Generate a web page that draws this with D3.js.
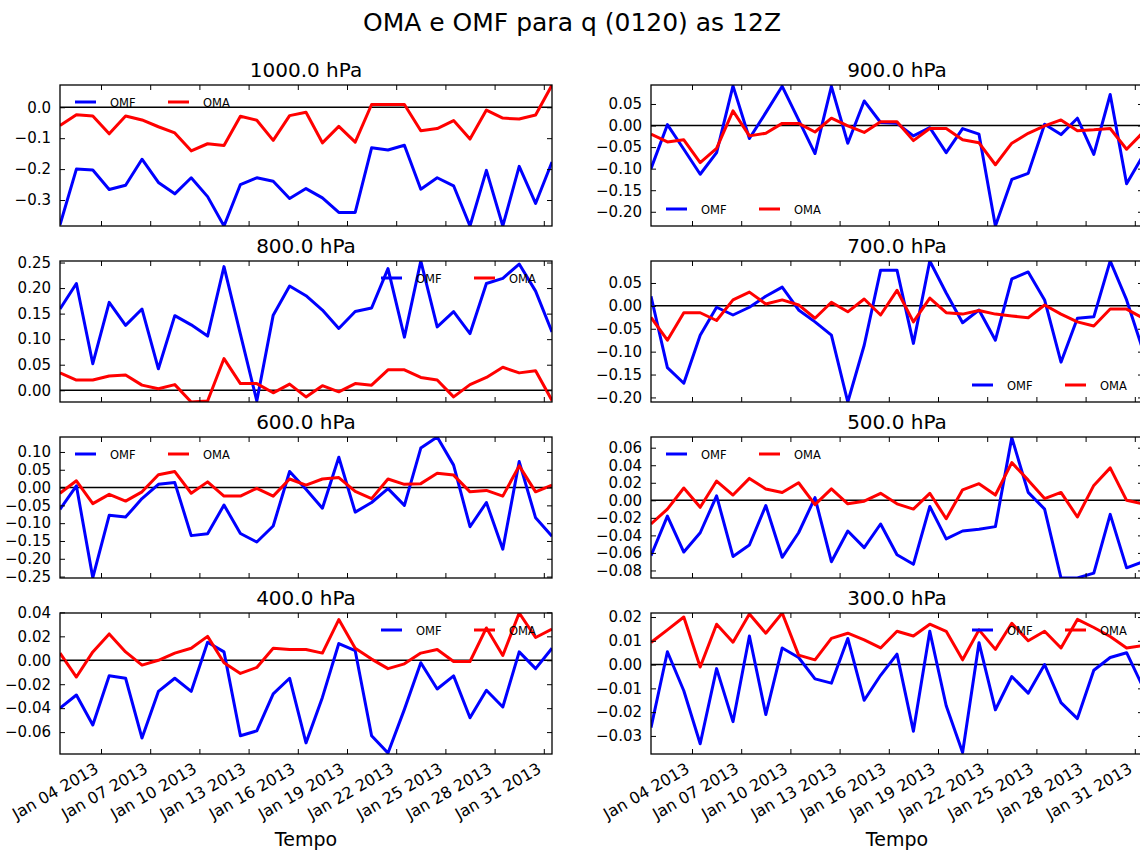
<!doctype html>
<html>
<head>
<meta charset="utf-8"/>
<title>OMA e OMF</title>
<script src="https://d3js.org/d3.v7.min.js"></script>
<style>
body { margin:0; background:#fff; }
svg text { font-family:"DejaVu Sans", sans-serif; fill:#000; }
</style>
</head>
<body>
<div id="grafico"></div>
<script>
// datas das analises (12Z)
var dias = ["2013-01-01","2013-01-02","2013-01-03","2013-01-04","2013-01-05","2013-01-06","2013-01-07",
  "2013-01-08","2013-01-09","2013-01-10","2013-01-11","2013-01-12","2013-01-13","2013-01-14","2013-01-15",
  "2013-01-16","2013-01-17","2013-01-18","2013-01-19","2013-01-20","2013-01-21","2013-01-22","2013-01-23",
  "2013-01-24","2013-01-25","2013-01-26","2013-01-27","2013-01-28","2013-01-29","2013-01-30","2013-01-31"];
var diasTicks = ["2013-01-04","2013-01-07","2013-01-10","2013-01-13","2013-01-16","2013-01-19",
  "2013-01-22","2013-01-25","2013-01-28","2013-01-31"];

var niveis = ["1000.0 hPa","900.0 hPa","800.0 hPa","700.0 hPa","600.0 hPa","500.0 hPa","400.0 hPa","300.0 hPa"];

var omf1000 = [-0.380,-0.200,-0.203,-0.266,-0.252,-0.168,-0.243,-0.280,-0.228,-0.289,-0.384,-0.250,-0.228,-0.239,-0.295,-0.263,-0.293,-0.340,-0.340,-0.131,-0.138,-0.123,-0.265,-0.228,-0.254,-0.384,-0.204,-0.384,-0.191,-0.311,-0.177];
var oma1000 = [-0.059,-0.024,-0.028,-0.086,-0.028,-0.041,-0.063,-0.083,-0.141,-0.118,-0.124,-0.029,-0.042,-0.107,-0.027,-0.016,-0.115,-0.062,-0.113,0.009,0.009,0.009,-0.076,-0.069,-0.043,-0.103,-0.009,-0.035,-0.038,-0.025,0.072];
var omf900 = [-0.100,0.002,-0.055,-0.113,-0.063,0.092,-0.030,0.030,0.091,0.013,-0.065,0.091,-0.041,0.057,0.007,0.005,-0.024,-0.005,-0.063,-0.007,-0.020,-0.233,-0.125,-0.111,0.003,-0.021,0.017,-0.067,0.072,-0.135,-0.070];
var oma900 = [-0.020,-0.038,-0.033,-0.086,-0.053,0.034,-0.024,-0.018,0.005,0.005,-0.015,0.017,-0.001,-0.016,0.009,0.009,-0.035,-0.007,-0.007,-0.033,-0.040,-0.091,-0.041,-0.018,-0.001,0.013,-0.012,-0.010,-0.007,-0.055,-0.016];
var omf800 = [0.159,0.209,0.052,0.172,0.127,0.159,0.042,0.146,0.128,0.106,0.242,0.110,-0.021,0.147,0.204,0.185,0.157,0.121,0.154,0.161,0.238,0.104,0.253,0.124,0.154,0.111,0.209,0.219,0.247,0.194,0.114];
var oma800 = [0.034,0.020,0.020,0.028,0.030,0.010,0.003,0.011,-0.023,-0.021,0.062,0.013,0.013,-0.005,0.012,-0.013,0.009,-0.003,0.013,0.010,0.040,0.040,0.025,0.020,-0.013,0.011,0.025,0.045,0.034,0.038,-0.020];
var omf700 = [0.021,-0.135,-0.169,-0.064,-0.003,-0.020,-0.003,0.021,0.041,-0.009,-0.035,-0.064,-0.210,-0.086,0.078,0.078,-0.082,0.098,0.028,-0.037,-0.009,-0.075,0.059,0.074,0.013,-0.123,-0.027,-0.024,0.098,0.013,-0.097];
var oma700 = [-0.025,-0.075,-0.015,-0.015,-0.032,0.013,0.030,0.004,0.013,0.002,-0.027,0.008,-0.013,0.015,-0.020,0.034,-0.035,0.017,-0.015,-0.018,-0.010,-0.018,-0.022,-0.026,0.002,-0.018,-0.035,-0.044,-0.007,-0.007,-0.027];
var omf600 = [-0.061,0.005,-0.253,-0.078,-0.083,-0.031,0.009,0.014,-0.135,-0.130,-0.049,-0.129,-0.153,-0.108,0.045,-0.005,-0.058,0.085,-0.069,-0.042,-0.003,-0.050,0.111,0.142,0.063,-0.110,-0.042,-0.173,0.073,-0.085,-0.137];
var oma600 = [-0.016,0.019,-0.045,-0.019,-0.038,-0.012,0.036,0.045,-0.016,0.016,-0.024,-0.024,-0.002,-0.024,0.024,0.007,0.024,0.028,-0.011,-0.031,0.024,0.009,0.011,0.040,0.035,-0.012,-0.008,-0.024,0.061,-0.012,0.007];
var omf500 = [-0.063,-0.018,-0.059,-0.037,0.005,-0.064,-0.051,-0.006,-0.065,-0.037,0.003,-0.070,-0.035,-0.054,-0.027,-0.062,-0.073,-0.007,-0.044,-0.035,-0.033,-0.030,0.0715,0.009,-0.010,-0.0886,-0.0886,-0.083,-0.016,-0.077,-0.070];
var oma500 = [-0.027,-0.010,0.014,-0.008,0.022,0.006,0.025,0.013,0.009,0.020,-0.005,0.013,-0.004,-0.001,0.008,-0.004,-0.010,0.008,-0.021,0.012,0.019,0.006,0.043,0.023,0.002,0.009,-0.019,0.017,0.037,0.000,-0.004];
var omf400 = [-0.040,-0.029,-0.054,-0.013,-0.015,-0.065,-0.026,-0.015,-0.026,0.015,0.007,-0.063,-0.059,-0.028,-0.015,-0.069,-0.031,0.014,0.008,-0.063,-0.0775,-0.041,-0.002,-0.024,-0.013,-0.048,-0.025,-0.039,0.007,-0.007,0.010];
var oma400 = [0.006,-0.014,0.007,0.022,0.007,-0.004,0.000,0.006,0.010,0.020,-0.002,-0.011,-0.006,0.010,0.009,0.009,0.006,0.034,0.010,0.001,-0.007,-0.003,0.006,0.009,-0.001,-0.001,0.027,0.004,0.0395,0.019,0.026];
var omf300 = [-0.0265,0.0054,-0.011,-0.0333,-0.0017,-0.024,0.012,-0.021,0.007,0.003,-0.006,-0.0078,0.011,-0.015,-0.0045,0.0044,-0.028,0.014,-0.0173,-0.037,0.0092,-0.019,-0.005,-0.012,0.000,-0.016,-0.0227,-0.0024,0.003,0.005,-0.0095];
var oma300 = [0.0093,0.0146,0.020,-0.001,0.017,0.0094,0.0213,0.0132,0.0217,0.004,0.002,0.011,0.0132,0.0104,0.007,0.014,0.012,0.017,0.014,0.002,0.0146,0.0064,0.0174,0.010,0.014,0.007,0.019,0.0156,0.0118,0.007,0.008];

// limites e ticks do eixo y de cada painel
var limites = [[-0.384,0.072],[-0.233,0.094],[-0.023,0.253],[-0.210,0.098],
               [-0.254,0.142],[-0.0886,0.0722],[-0.0783,0.0395],[-0.0376,0.0217]];
var yTicks = [[-0.3,-0.2,-0.1,0.0],
              [-0.20,-0.15,-0.10,-0.05,0.00,0.05],
              [0.00,0.05,0.10,0.15,0.20,0.25],
              [-0.20,-0.15,-0.10,-0.05,0.00,0.05],
              [-0.25,-0.20,-0.15,-0.10,-0.05,0.00,0.05,0.10],
              [-0.08,-0.06,-0.04,-0.02,0.00,0.02,0.04,0.06],
              [-0.06,-0.04,-0.02,0.00,0.02,0.04],
              [-0.03,-0.02,-0.01,0.00,0.01,0.02]];
var yFormatos = [".1f",".2f",".2f",".2f",".2f",".2f",".2f",".2f"];
var omfs = [omf1000,omf900,omf800,omf700,omf600,omf500,omf400,omf300];
var omas = [oma1000,oma900,oma800,oma700,oma600,oma500,oma400,oma300];
var legendaPos = ["ul","ll","ur","lr","ul","ul","ur","ur"];

var svg = d3.select("#grafico").append("svg")
  .attr("width", 1140).attr("height", 852);
svg.append("rect").attr("width",1140).attr("height",852).attr("fill","#fff");

var colunas = [60, 651];
var linhas = [85, 261, 437, 613];
var larg = 492, alt = 141;

var parseDia = d3.utcParse("%Y-%m-%d");
var datas = dias.map(function(d){ return d3.utcHour.offset(parseDia(d), 12); });
var datasTicks = diasTicks.map(parseDia);

var x = d3.scaleUtc().domain([datas[0], datas[datas.length-1]]).range([0, larg]);

svg.append("text")
  .attr("x", 572).attr("y", 31)
  .attr("text-anchor","middle")
  .style("font-size","25px")
  .text("OMA e OMF para q (0120) as 12Z");

for (var p = 0; p < 8; p++) {
  painel(p);
}

function painel(p) {
  var col = p % 2, lin = Math.floor(p / 2);
  var g = svg.append("g").attr("transform","translate(" + colunas[col] + "," + linhas[lin] + ")");
  var y = d3.scaleLinear().domain(limites[p]).range([alt, 0]);

  g.append("clipPath").attr("id","clip" + p)
    .append("rect").attr("width", larg).attr("height", alt);

  // linha do zero
  g.append("line")
    .attr("x1",0).attr("x2",larg)
    .attr("y1",y(0)).attr("y2",y(0))
    .attr("stroke","#000").attr("stroke-width",1.5);

  var linha = d3.line()
    .x(function(d,i){ return x(datas[i]); })
    .y(function(d){ return y(d); });

  var series = [[omfs[p], "#0000ff"], [omas[p], "#ff0000"]];
  series.forEach(function(s){
    g.append("path")
      .attr("clip-path","url(#clip" + p + ")")
      .attr("d", linha(s[0]))
      .attr("fill","none")
      .attr("stroke", s[1])
      .attr("stroke-width", 3)
      .attr("stroke-linejoin","round");
  });

  // eixos
  var fmt = d3.format(yFormatos[p]);
  var eixoY = g.append("g").call(d3.axisLeft(y).tickValues(yTicks[p]).tickSize(-5).tickPadding(9).tickFormat(fmt));
  g.append("g").attr("transform","translate(" + larg + ",0)")
    .call(d3.axisRight(y).tickValues(yTicks[p]).tickSize(-5).tickFormat(""));
  var eixoX = g.append("g").attr("transform","translate(0," + alt + ")")
    .call(d3.axisBottom(x).tickValues(datasTicks).tickSize(-5).tickFormat(d3.utcFormat("%b %d %Y")));
  g.append("g")
    .call(d3.axisTop(x).tickValues(datasTicks).tickSize(-5).tickFormat(""));

  g.selectAll(".domain").remove();
  g.selectAll(".tick line").attr("stroke","#000").attr("stroke-width",1);
  eixoY.selectAll("text").style("font-size","15px");

  if (lin == 3) {
    eixoX.selectAll("text")
      .style("font-size","16px")
      .attr("text-anchor","end")
      .attr("y",0).attr("dy",0)
      .attr("transform","translate(-2,18) rotate(-30)");
    g.append("text")
      .attr("x", larg/2).attr("y", alt + 92)
      .attr("text-anchor","middle")
      .style("font-size","19px")
      .text("Tempo");
  } else {
    eixoX.selectAll("text").remove();
  }

  // moldura
  g.append("rect")
    .attr("width", larg).attr("height", alt)
    .attr("fill","none").attr("stroke","#000").attr("stroke-width",1.3);

  // titulo
  g.append("text")
    .attr("x", larg/2).attr("y", -8)
    .attr("text-anchor","middle")
    .style("font-size","20px")
    .text(niveis[p]);

  // legenda
  var pos = legendaPos[p];
  var lx = pos.charAt(1) == "l" ? 15 : larg - 171;
  var ly = pos.charAt(0) == "u" ? 17 : alt - 17;
  var leg = g.append("g").attr("transform","translate(" + lx + "," + ly + ")");
  var itens = [["OMF","#0000ff",0],["OMA","#ff0000",93]];
  itens.forEach(function(it){
    leg.append("line")
      .attr("x1", it[2]).attr("x2", it[2] + 21)
      .attr("y1", 0).attr("y2", 0)
      .attr("stroke", it[1]).attr("stroke-width", 3);
    leg.append("text")
      .attr("x", it[2] + 35).attr("y", 0).attr("dy","0.4em")
      .style("font-size","11.5px")
      .text(it[0]);
  });
}
</script>
</body>
</html>
